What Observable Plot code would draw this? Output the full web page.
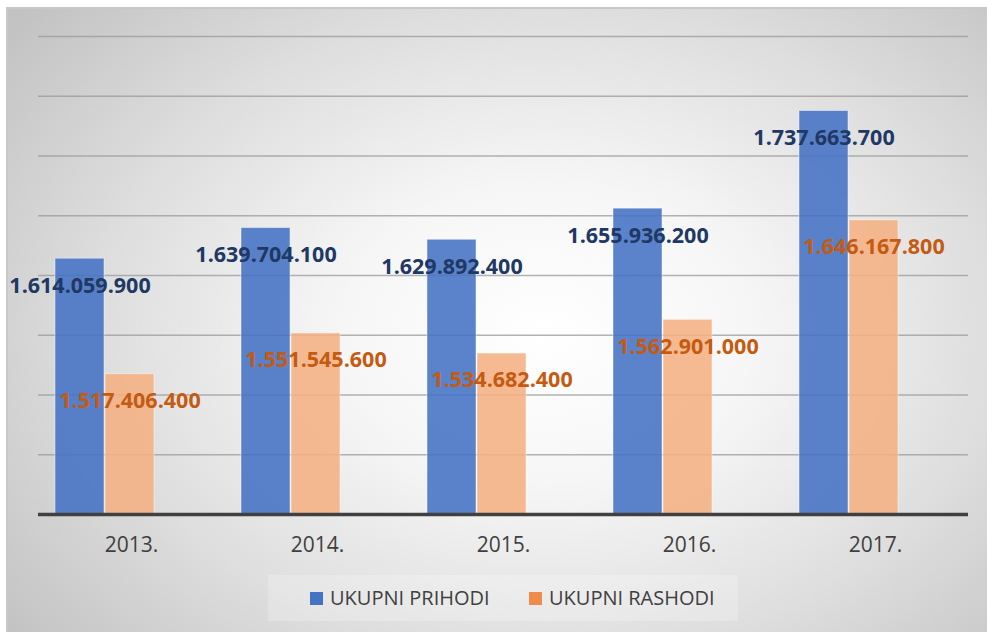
<!DOCTYPE html>
<html>
<head>
<meta charset="utf-8">
<script src="https://cdn.jsdelivr.net/npm/d3@7"></script>
<script src="https://cdn.jsdelivr.net/npm/@observablehq/plot@0.6"></script>
<style>
  html, body { margin: 0; padding: 0; background: #ffffff; }
  #frame {
    position: absolute; left: 6px; top: 7px; width: 979px; height: 623px;
    border-top: 2px solid #c8c8c8; border-left: 2px solid #c8c8c8;
    background: radial-gradient(ellipse 70% 80% at 55% 52%, #ffffff 0%, #f6f6f6 30%, #dedede 65%, #c2c2c2 100%);
    overflow: hidden;
  }
  #chart { position: absolute; left: 0; top: 0; }
  #legend {
    position: absolute; left: 260px; top: 566px; width: 470px; height: 46px;
    background: rgba(255,255,255,0.22);
    font-family: "Open Sans", sans-serif; font-size: 20px; color: #404040;
  }
  .item { position: absolute; top: 8px; line-height: 30px; white-space: nowrap; }
  .sw { display: inline-block; width: 13px; height: 13px; margin-right: 7px; vertical-align: 0px; }
</style>
</head>
<body>
<div id="frame">
  <div id="chart"></div>
  <div id="legend"></div>
</div>
<script>
const years = ["2013.", "2014.", "2015.", "2016.", "2017."];
const seriesNames = ["UKUPNI PRIHODI", "UKUPNI RASHODI"];
const prihodi = [1614059900, 1639704100, 1629892400, 1655936200, 1737663700];
const rashodi = [1517406400, 1551545600, 1534682400, 1562901000, 1646167800];
const yDomain = [1400000000, 1800000000];
const gridTicks = [1450000000, 1500000000, 1550000000, 1600000000, 1650000000, 1700000000, 1750000000, 1800000000];
const barColors = ["#4472c4", "#f4b183"];
const legendColors = ["#4472c4", "#ef8c4a"];
const labelColors = ["#203864", "#c55a11"];

const rows = [];
years.forEach((y, i) => {
  rows.push({year: y, series: seriesNames[0], value: prihodi[i]});
  rows.push({year: y, series: seriesNames[1], value: rashodi[i]});
});
const fmt = d3.formatLocale({decimal: ",", thousands: ".", grouping: [3], currency: ["", ""]}).format(",");

const chart = Plot.plot({
  width: 979, height: 560,
  marginLeft: 28, marginRight: 18, marginTop: 27, marginBottom: 55,
  style: {background: "transparent", overflow: "visible", fontFamily: "Open Sans", fontSize: "21px", color: "#404040"},
  fx: {domain: years, padding: 0, tickSize: 0, tickPadding: 23, label: null},
  x: {domain: seriesNames, paddingInner: 0.02, paddingOuter: 0.8625, align: 0.19, axis: null},
  y: {domain: yDomain, axis: null},
  color: {domain: seriesNames, range: barColors},
  marks: [
    Plot.ruleY(gridTicks, {stroke: "#9a9a9a", strokeOpacity: 0.75, strokeWidth: 1.5}),
    Plot.barY(rows, {fx: "year", x: "series", y1: yDomain[0], y2: "value", fill: "series", fillOpacity: 0.88, stroke: "#ffffff", strokeOpacity: 0.45, strokeWidth: 1}),
    Plot.ruleY([yDomain[0]], {stroke: "#404040", strokeWidth: 3.5}),
    Plot.text(rows.filter(d => d.series === seriesNames[0]), {fx: "year", x: "series", y: "value", text: d => fmt(d.value), dy: 27, fill: labelColors[0], fontWeight: "bold", fontSize: 21.5}),
    Plot.text(rows.filter(d => d.series === seriesNames[1]), {fx: "year", x: "series", y: "value", text: d => fmt(d.value), dy: 27, fill: labelColors[1], fontWeight: "bold", fontSize: 21.5})
  ]
});
document.getElementById("chart").appendChild(chart);

const legend = document.getElementById("legend");
const lefts = [42, 261];
seriesNames.forEach((s, i) => {
  const it = document.createElement("div");
  it.className = "item";
  it.style.left = lefts[i] + "px";
  const sw = document.createElement("span");
  sw.className = "sw";
  sw.style.background = legendColors[i];
  it.appendChild(sw);
  it.appendChild(document.createTextNode(s));
  legend.appendChild(it);
});
</script>
</body>
</html>
